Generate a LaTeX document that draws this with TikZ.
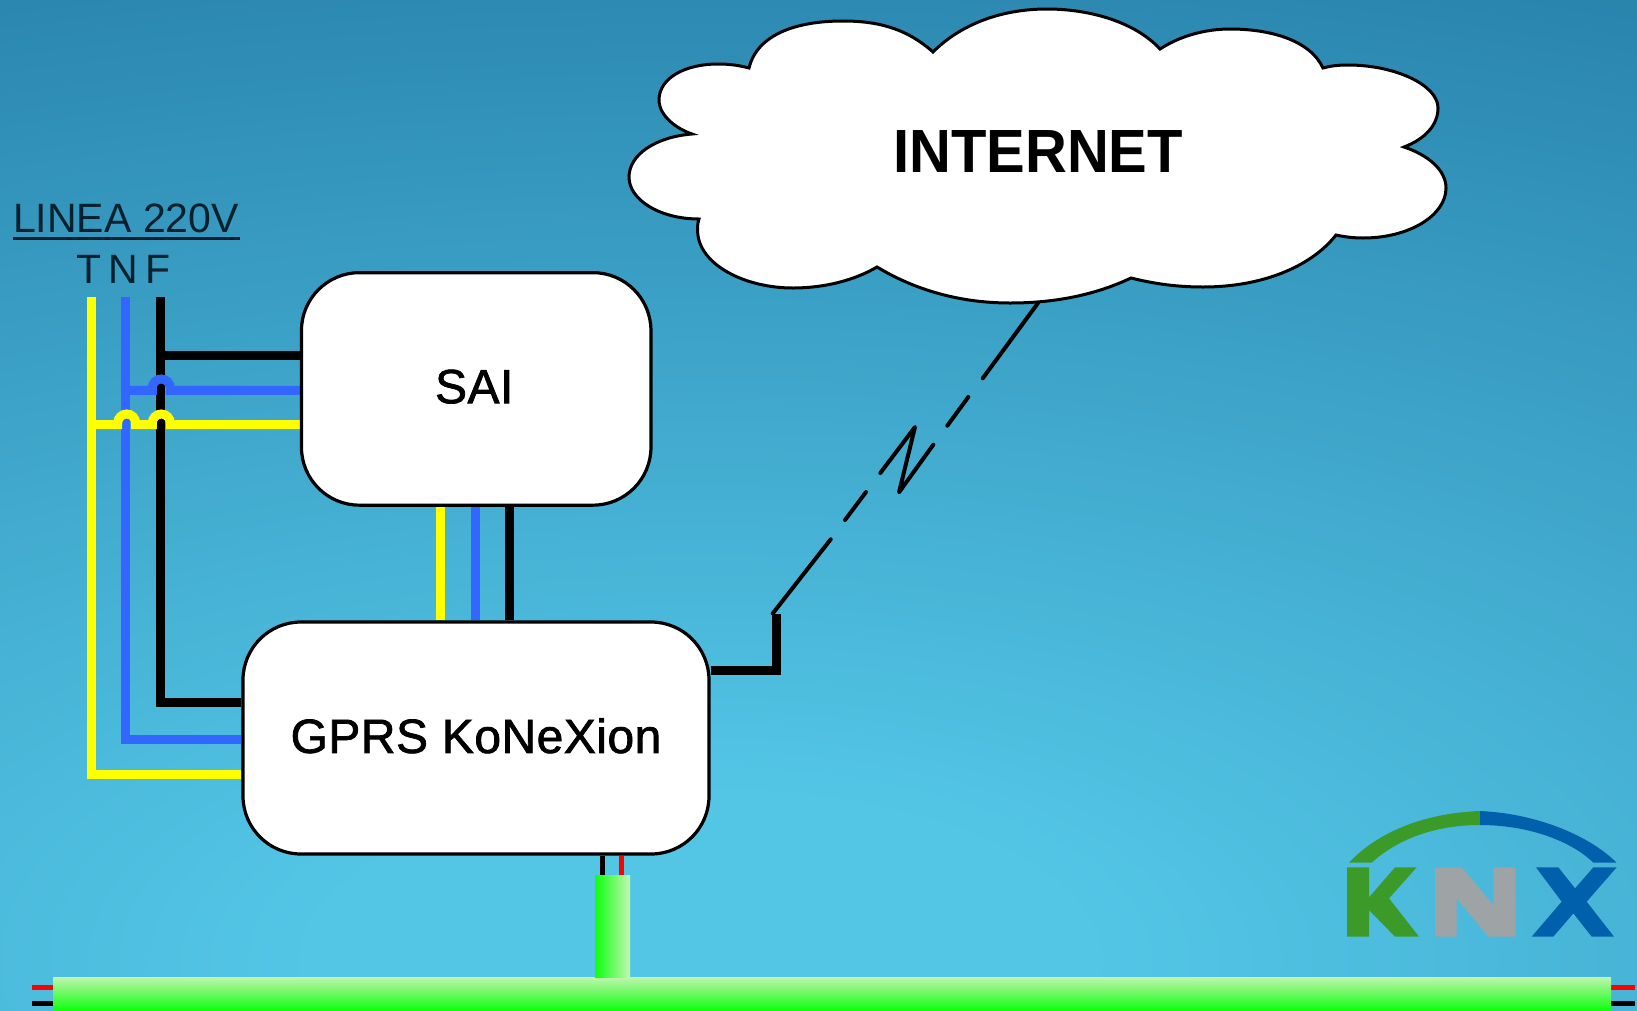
\documentclass[tikz,border=0pt]{standalone}
\usepackage{fontspec}
\usepackage{graphicx}
\setmainfont{Liberation Sans}
\newfontfamily\devfont[FakeBold=1.5,LetterSpace=1]{Liberation Sans}
\usetikzlibrary{backgrounds}
\definecolor{bgouter}{rgb}{0.165,0.52,0.68}
\definecolor{wireblue}{HTML}{3366FF}
\definecolor{wireyellow}{HTML}{FFFF00}
\definecolor{inkdark}{HTML}{06202E}
\definecolor{knxgreen}{HTML}{3C9B28}
\definecolor{knxgray}{HTML}{9EA3A6}
\definecolor{knxblue}{HTML}{0060AB}
\definecolor{buspale}{RGB}{190,245,172}
\definecolor{busmid}{RGB}{110,250,100}
\definecolor{busgreen}{RGB}{15,255,15}
\pgfdeclareradialshading{bgshade}{\pgfpoint{0bp}{0bp}}{rgb(0bp)=(0.325,0.776,0.902); rgb(4bp)=(0.325,0.776,0.902); rgb(25bp)=(0.165,0.52,0.68); rgb(50bp)=(0.165,0.52,0.68)}
\tikzset{
  device/.style={draw=black,line width=3.2pt,fill=white,rounded corners=58pt,inner sep=0pt,text depth=5pt,font=\devfont\fontsize{48}{48}\selectfont},
  wirethick/.style={line width=9pt},
  wireblack/.style={wirethick,draw=black},
  wirebl/.style={wirethick,draw=wireblue},
  wirey/.style={wirethick,draw=wireyellow},
  radio/.style={draw=black,line width=4pt,line cap=round,line join=round},
  labelsm/.style={inner sep=0pt,anchor=base west,text=inkdark,font=\fontsize{41}{41}\selectfont},
  thinwire/.style={line width=4.5pt},
  busbar/.style={inner sep=0pt,minimum width=1558pt,minimum height=33pt,top color=buspale,middle color=busmid,bottom color=busgreen},
  busstub/.style={inner sep=0pt,minimum width=35pt,minimum height=102pt,left color=busgreen,middle color=busmid,right color=buspale!90!white},
}
\begin{document}
\begin{tikzpicture}[x=1pt,y=-1pt]
\useasboundingbox (0,0) rectangle (1637,1010);

% boxes
\node[device,minimum width=349.5pt,minimum height=232.5pt] (sai) at (476.2,388.9) {\hspace*{-4pt}SAI};
\node[device,minimum width=466pt,minimum height=232pt] (gprs) at (476,738) {GPRS KoNeXion};

% cloud
\draw[black,line width=3pt,fill=white,line join=miter]
 (933,52) .. controls (905,27) and (875,21) .. (843,21)
 .. controls (795,21) and (757,35) .. (749,68)
 .. controls (738,65) and (728,64) .. (718,64)
 .. controls (685,64) and (659,78) .. (659,100)
 .. controls (659,116) and (677,129) .. (692,134)
 .. controls (655,137) and (629,155) .. (629,177)
 .. controls (629,200) and (660,219) .. (699,219)
 .. controls (697,225) and (697.5,229) .. (697.7,233)
 .. controls (700,265) and (745,288) .. (793,288)
 .. controls (825,288) and (855,280) .. (877,267)
 .. controls (915,290) and (960,303) .. (1010,303)
 .. controls (1055,303) and (1095,295) .. (1131,278)
 .. controls (1155,284) and (1178,287) .. (1203,287)
 .. controls (1260,287) and (1310,268) .. (1336,235)
 .. controls (1345,237) and (1354,238) .. (1363,238)
 .. controls (1410,238) and (1446,215) .. (1446,188)
 .. controls (1446,170) and (1428,155) .. (1404,147)
 .. controls (1425,139) and (1438,125) .. (1438,108)
 .. controls (1438,85) and (1395,65) .. (1348,65)
 .. controls (1338,65) and (1330,66) .. (1323,68)
 .. controls (1310,40) and (1270,29) .. (1230,29)
 .. controls (1205,29) and (1180,36) .. (1160,49)
 .. controls (1135,22) and (1090,9) .. (1047,9)
 .. controls (1000,9) and (960,25) .. (933,52) -- cycle;
\node[inner sep=0pt,anchor=base west,font=\bfseries\fontsize{61}{61}\selectfont] (inet) at (893,172.3) {\scalebox{.95}[1]{INTERNET}};

% line labels
\node[labelsm] (linea) at (13,232.7) {LINEA 220V};
\node[labelsm] (tnf) at (76.5,283) {\spaceskip=7pt T N F};
\coordinate (ulA) at (13.3,238.3);
\coordinate (ulB) at (240,238.3);
\draw[line width=2.5pt,inkdark] (ulA) -- (ulB);

% bus
\node[busbar,anchor=north west] (bus) at (53,977) {};
\node[busstub,anchor=north west] (stub) at (595,875) {};

\begin{scope}[on background layer]
  \fill[bgouter] (0,0) rectangle (1637,1010);
  \begin{scope}
    \clip (0,0) rectangle (1637,1010);
    \shade[shading=bgshade] (700,960) ellipse (2400pt and 1030pt);
  \end{scope}

  % three-phase feed
  \coordinate (fTop) at (160.3,297);
  \coordinate (nTop) at (125.7,297);
  \coordinate (tTop) at (91,297);

  % black
  \draw[wireblack] (fTop) |- (gprs.west |- 0,702);
  \draw[wireblack] (fTop |- 0,355.3) -- (sai.west |- 0,355.3);
  % blue
  \draw[wirebl] (nTop) |- (gprs.west |- 0,739);
  \draw[wirebl] (nTop |- 0,390.3) -- (152.3,390.3) -- (152.3,388) arc[start angle=180,end angle=0,radius=9pt] -- (170.3,390.3) -- (sai.west |- 0,390.3);
  % yellow
  \draw[wirey] (tTop) |- (gprs.west |- 0,774);
  \draw[wirey] (tTop |- 0,424.7) -- (117.7,424.7) -- (117.7,423) arc[start angle=180,end angle=0,radius=9pt] -- (135.7,424.7) -- (152.3,424.7) -- (152.3,423) arc[start angle=180,end angle=0,radius=9pt] -- (170.3,424.7) -- (sai.west |- 0,424.7);

  % SAI to GPRS
  \draw[wirey] (sai.south -| 440.5,0) -- (gprs.north -| 440.5,0);
  \draw[wirebl] (sai.south -| 475,0) -- (gprs.north -| 475,0);
  \draw[wireblack] (sai.south -| 509.7,0) -- (gprs.north -| 509.7,0);

  % GPRS to bus stub
  \draw[thinwire,black] (gprs.south -| 602.7,0) -- (stub.north -| 602.7,0);
  \draw[thinwire,red] (gprs.south -| 621.4,0) -- (stub.north -| 621.4,0);

  % bus terminals
  \coordinate (busLA) at (32,0);
  \coordinate (busRA) at (1635,0);
  \draw[line width=5pt,red] (busLA |- 0,987.3) -- (bus.west |- 0,987.3);
  \draw[line width=5pt,black] (busLA |- 0,1003.3) -- (bus.west |- 0,1003.3);
  \draw[line width=5pt,red] (bus.east |- 0,987.3) -- (busRA |- 0,987.3);
  \draw[line width=5pt,black] (bus.east |- 0,1003.3) -- (busRA |- 0,1003.3);

  % radio link
  \coordinate (rA) at (772.7,613.5);
  \coordinate (rB) at (1038,303);
  \draw[wireblack] (gprs.east |- 0,670) -- (776.5,670) -- (776.5,614);
  \draw[radio] (rA) -- (830.7,539.3);
  \draw[radio] (845,520) -- (866,492);
  \draw[radio] (880.3,473) -- (915,427) -- (899,492.3) -- (933.3,444.7);
  \draw[radio] (947.3,425.7) -- (968.3,397);
  \draw[radio] (982.7,378.3) -- (rB);
\end{scope}

% KNX logo
\begin{scope}[shift={(1320,790)},x=.33333pt,y=-.33333pt]
  \fill[knxgreen] (87,218) .. controls (160,140) and (290,70) .. (480,63) -- (480,105) .. controls (340,105) and (230,150) .. (155,218) -- cycle;
  \fill[knxblue] (480,63) .. controls (640,70) and (800,130) .. (890,218) -- (820,218) .. controls (750,150) and (620,105) .. (480,105) -- cycle;
  \fill[knxgreen] (81,232) -- (147,232) -- (147,322) -- (225,232) -- (290,232) -- (207,325) -- (297,440) -- (225,440) -- (147,360) -- (147,440) -- (81,440) -- cycle;
  \fill[knxgray] (345,232) -- (425,232) -- (520,345) -- (520,232) -- (587,232) -- (587,440) -- (505,440) -- (410,325) -- (410,440) -- (345,440) -- cycle;
  \fill[knxblue] (648,232) -- (715,232) -- (765,295) -- (820,232) -- (890,232) -- (800,335) -- (882,440) -- (815,440) -- (760,370) -- (700,440) -- (635,440) -- (725,335) -- cycle;
\end{scope}
\end{tikzpicture}
\end{document}
